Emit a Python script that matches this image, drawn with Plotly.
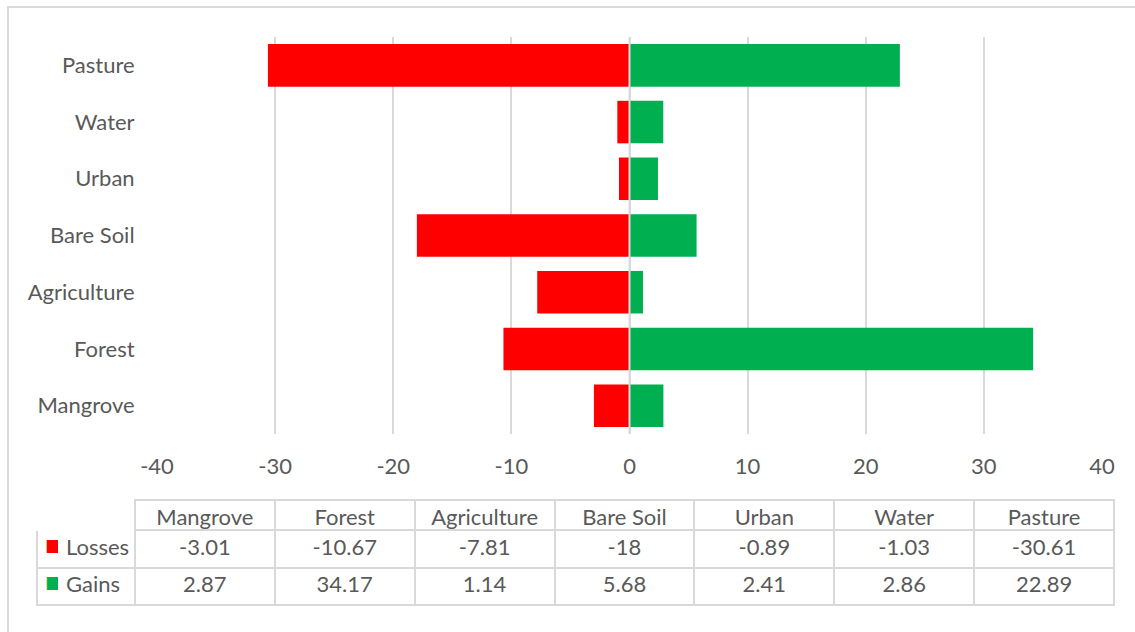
import plotly.graph_objects as go

categories = ["Mangrove", "Forest", "Agriculture", "Bare Soil", "Urban", "Water", "Pasture"]
losses = [-3.01, -10.67, -7.81, -18, -0.89, -1.03, -30.61]
gains = [2.87, 34.17, 1.14, 5.68, 2.41, 2.86, 22.89]
series_names = ["Losses", "Gains"]
x_ticks = [-40, -30, -20, -10, 0, 10, 20, 30, 40]
x_tick_text = [str(v) for v in x_ticks]

RED = "#FF0000"
GREEN = "#00B050"
GRID = "#D9D9D9"
TEXT = "#595959"
CLEAR = "rgba(0,0,0,0)"
FONT = "Lato"
SIZE = 22

W, H = 1135, 632

fig = go.Figure()
fig.add_trace(go.Bar(y=categories, x=losses, orientation="h", name=series_names[0],
                     marker=dict(color=RED, line=dict(width=0))))
fig.add_trace(go.Bar(y=categories, x=gains, orientation="h", name=series_names[1],
                     marker=dict(color=GREEN, line=dict(width=0))))

def fmt(v):
    return f"{v:g}"

n = len(categories)
table_domain = dict(x=[37 / W, 1114 / W], y=[1 - 606 / H, 1 - 500 / H])
columns = [["", ""]] + [[fmt(l), fmt(g)] for l, g in zip(losses, gains)]

# data table under the chart (grid and values)
fig.add_trace(go.Table(
    domain=table_domain,
    columnwidth=[98] + [140] * n,
    header=dict(values=[""] + categories, height=30,
                line=dict(color=["white"] + [GRID] * n, width=2),
                fill=dict(color="white"),
                align="center",
                font=dict(family=FONT, size=SIZE, color=TEXT)),
    cells=dict(values=columns, height=37.5,
               line=dict(color=GRID, width=2),
               fill=dict(color="white"),
               align="center",
               font=dict(family=FONT, size=SIZE, color=TEXT)),
))

# legend keys and series names in the first column of the table
fig.add_trace(go.Table(
    domain=table_domain,
    columnwidth=[21, 77] + [140] * n,
    header=dict(values=[""] * (n + 2), height=30,
                line=dict(color=CLEAR, width=0),
                fill=dict(color=CLEAR)),
    cells=dict(values=[["■", "■"], series_names] + [["", ""]] * n, height=37.5,
               line=dict(color=CLEAR, width=0),
               fill=dict(color=CLEAR),
               align="left",
               font=dict(family=["DejaVu Sans", FONT], size=[17, SIZE],
                         color=[[RED, GREEN], [TEXT, TEXT]] + [[TEXT, TEXT]] * n)),
))

# vertical axis line at zero, drawn over the bars
fig.add_shape(type="line", xref="x", yref="y domain", x0=0, x1=0, y0=0, y1=1,
              line=dict(color=GRID, width=2), layer="above")
# chart area border
fig.add_shape(type="rect", xref="paper", yref="paper",
              x0=8 / W, x1=1.02, y0=-0.02, y1=1 - 7 / H,
              line=dict(color=GRID, width=2), layer="below")

fig.update_layout(
    width=W, height=H,
    margin=dict(l=0, r=0, t=0, b=0, autoexpand=False),
    paper_bgcolor="white", plot_bgcolor="white",
    barmode="relative", bargap=0.25,
    showlegend=False,
    font=dict(family=FONT, color=TEXT),
    xaxis=dict(domain=[157 / W, 1102 / W], range=[-40, 40],
               tickvals=x_ticks, ticktext=x_tick_text,
               showgrid=True, gridcolor=GRID, gridwidth=2, zeroline=False,
               showline=False, ticks="outside", ticklen=13, tickcolor=CLEAR,
               tickfont=dict(family=FONT, size=SIZE, color=TEXT)),
    yaxis=dict(domain=[1 - 434 / H, 1 - 37 / H], categoryorder="array",
               categoryarray=categories, showgrid=False, zeroline=False,
               showline=False, ticks="outside", ticklen=17, tickcolor=CLEAR,
               tickfont=dict(family=FONT, size=SIZE, color=TEXT)),
)

fig.write_html("out.html")
